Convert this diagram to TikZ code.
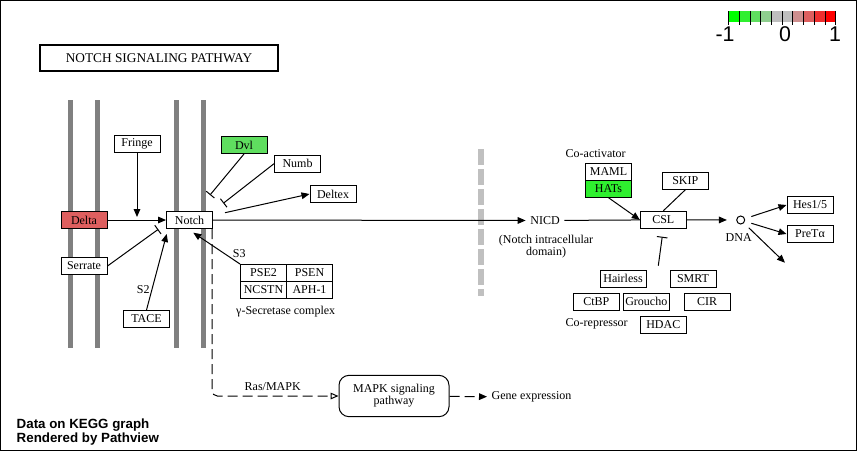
\documentclass[tikz,border=0pt]{standalone}
\usepackage{fontspec}
\setmainfont{Liberation Serif}
\newfontfamily\arialfont{Liberation Sans}
\usetikzlibrary{arrows.meta,positioning}
\definecolor{memgray}{RGB}{128,128,128}
\definecolor{wallgray}{RGB}{192,192,192}
\definecolor{leg0}{RGB}{0,255,0}
\definecolor{leg1}{RGB}{47,239,47}
\definecolor{leg2}{RGB}{95,222,95}
\definecolor{leg3}{RGB}{142,206,142}
\definecolor{leg4}{RGB}{190,190,190}
\definecolor{leg5}{RGB}{190,190,190}
\definecolor{leg6}{RGB}{206,142,142}
\definecolor{leg7}{RGB}{222,95,95}
\definecolor{leg8}{RGB}{239,47,47}
\definecolor{leg9}{RGB}{255,0,0}
\begin{document}
\begin{tikzpicture}[x=0.75pt, y=-0.75pt,
  every node/.style={font=\fontsize{9}{9}\selectfont},
  gene/.style={draw, line width=0.75pt, fill=white, minimum width=34.5pt, minimum height=12.75pt, inner sep=0pt},
  act/.style={-{Triangle[length=6pt,width=5pt]}, line width=0.75pt},
  inh/.style={-{Bar[width=8pt]}, line width=0.75pt},
  mem/.style={line width=3.75pt, memgray},
  dashline/.style={dash pattern=on 7.5pt off 3.75pt, line width=0.75pt}]
\useasboundingbox (0,0) rectangle (857,451);
\draw[line width=0.75pt] (0.5,0.5) rectangle (856.5,450.5);
% membranes and nuclear wall
\foreach \x in {70,97,176,203} \draw[mem] (\x,100) -- (\x,348);
\draw[line width=4.5pt, wallgray, dash pattern=on 12pt off 3pt] (481,149) -- (481,296);
\node[draw, line width=1.5pt, minimum width=178.5pt, minimum height=19.5pt, font=\fontsize{10}{12}\selectfont] (title) at (159,58) {NOTCH SIGNALING PATHWAY};
% legend
\foreach \i in {0,...,9} \fill[leg\i] (728.3+\i*10.74,11) rectangle ++(10.74,10.7);
\foreach \i in {0,...,10} \draw[line width=0.4pt] (728.3+\i*10.74,11) -- ++(0,14);
\node[font=\arialfont\fontsize{16}{16}\selectfont] (legmin) at (725,34) {-1};
\node[font=\arialfont\fontsize{16}{16}\selectfont] (legmid) at (785,34) {0};
\node[font=\arialfont\fontsize{16}{16}\selectfont] (legmax) at (835,34) {1};
% genes, cell surface
\node[gene] (fringe) at (137,144) {Fringe};
\node[gene, fill=leg2] (dvl) at (244,145) {Dvl};
\node[gene] (numb) at (297.5,163.7) {Numb};
\node[gene] (deltex) at (333,194) {Deltex};
\node[gene, fill=leg7] (delta) at (84,220) {Delta};
\node[gene] (notch) at (189.5,220) {Notch};
\node[gene] (serrate) at (84,266) {Serrate};
\node[gene] (tace) at (146.5,319) {TACE};
\node[gene] (pse2) at (263.5,273) {PSE2};
\node[gene, right=-0.75pt of pse2] (psen) {PSEN};
\node[gene, below=-0.75pt of pse2] (ncstn) {NCSTN};
\node[gene, below=-0.75pt of psen] (aph) {APH-1};
\node (gsec) at (285.7,311.7) {γ-Secretase complex};
\node (s2) at (143.3,290) {S2};
\node (s3) at (239.3,253.3) {S3};
% nucleus
\node (nicd) at (545,220.5) {NICD};
\node[align=center] (nicdtxt) at (546,247) {(Notch intracellular\\domain)};
\node (coact) at (595.7,154) {Co-activator};
\node[gene] (maml) at (608.5,171.7) {MAML};
\node[gene, fill=leg1, below=-0.75pt of maml] (hats) {HATs};
\node[gene] (skip) at (685.3,180.8) {SKIP};
\node[gene] (csl) at (663.3,219.8) {CSL};
\node[circle, draw, line width=0.75pt, minimum size=6pt, inner sep=0pt] (dna) at (740.7,220) {};
\node (dnatxt) at (738.7,237.7) {DNA};
\node[gene] (hes) at (810,205) {Hes1/5};
\node[gene] (pret) at (810,234) {PreTα};
\node[gene] (hairless) at (623,278.7) {Hairless};
\node[gene] (smrt) at (693,278.7) {SMRT};
\node[gene] (ctbp) at (596.3,301.8) {CtBP};
\node[gene] (groucho) at (646.3,301.8) {Groucho};
\node[gene] (cir) at (707,301.8) {CIR};
\node[gene] (hdac) at (663.3,324.8) {HDAC};
\node (corep) at (596.7,324) {Co-repressor};
% MAPK part
\node[draw, rounded corners=7.5pt, line width=0.75pt, minimum width=82.5pt, minimum height=31pt, align=center] (mapk) at (394,396) {MAPK signaling\\pathway};
\node[anchor=west] (geneexp) at (487,397) {Gene expression};
\node (rasmapk) at (272.7,386.7) {Ras/MAPK};
\node[anchor=west, align=left, font=\arialfont\bfseries\fontsize{10}{10.5}\selectfont] (pv) at (12,432) {Data on KEGG graph\\Rendered by Pathview};
% free ends
\coordinate (fringeto) at (137,217);
\coordinate (serrto) at (158.3,229.3);
\coordinate (taceto) at (166.7,234);
\coordinate (gsecto) at (193.3,232.7);
\coordinate (dvlto) at (210,195);
\coordinate (numbto) at (223.3,203.3);
\coordinate (deltexfrom) at (225,212.7);
\coordinate (corepin) at (658.3,265.7);
\coordinate (dnaout) at (785,262.7);
% connectors
\draw[act] (delta) -- (notch);
\draw[act] (fringe) -- (fringeto);
\draw[inh] (serrate.east) -- (serrto);
\draw[act] (tace.north) -- (taceto);
\draw[act] (pse2.north west) -- (gsecto);
\draw[inh] (dvl.south) -- (dvlto);
\draw[inh] (numb.west) -- (numbto);
\draw[act] (deltexfrom) -- (deltex.west);
\draw[act] (notch) -- (nicd);
\draw[line width=0.75pt] (nicd) -- (csl);
\draw[act] (hats.south) -- (csl.west);
\draw[line width=0.75pt] (skip.south) -- (csl.north);
\draw[inh, shorten >=6pt] (corepin) -- (csl.south);
\draw[act, shorten >=7pt] (csl) -- (dna);
\draw[act, shorten <=5pt] (dna) -- (hes.west);
\draw[act, shorten <=5pt] (dna) -- (pret.west);
\draw[act, shorten <=5pt] (dna) -- (dnaout);
\draw[dashline, rounded corners=4pt, -{Triangle[open,length=6pt,width=5pt]}] ([xshift=-0.75pt]notch.south east) |- (mapk.west);
\draw[dashline, act] (mapk) -- (geneexp);
\end{tikzpicture}
\end{document}
